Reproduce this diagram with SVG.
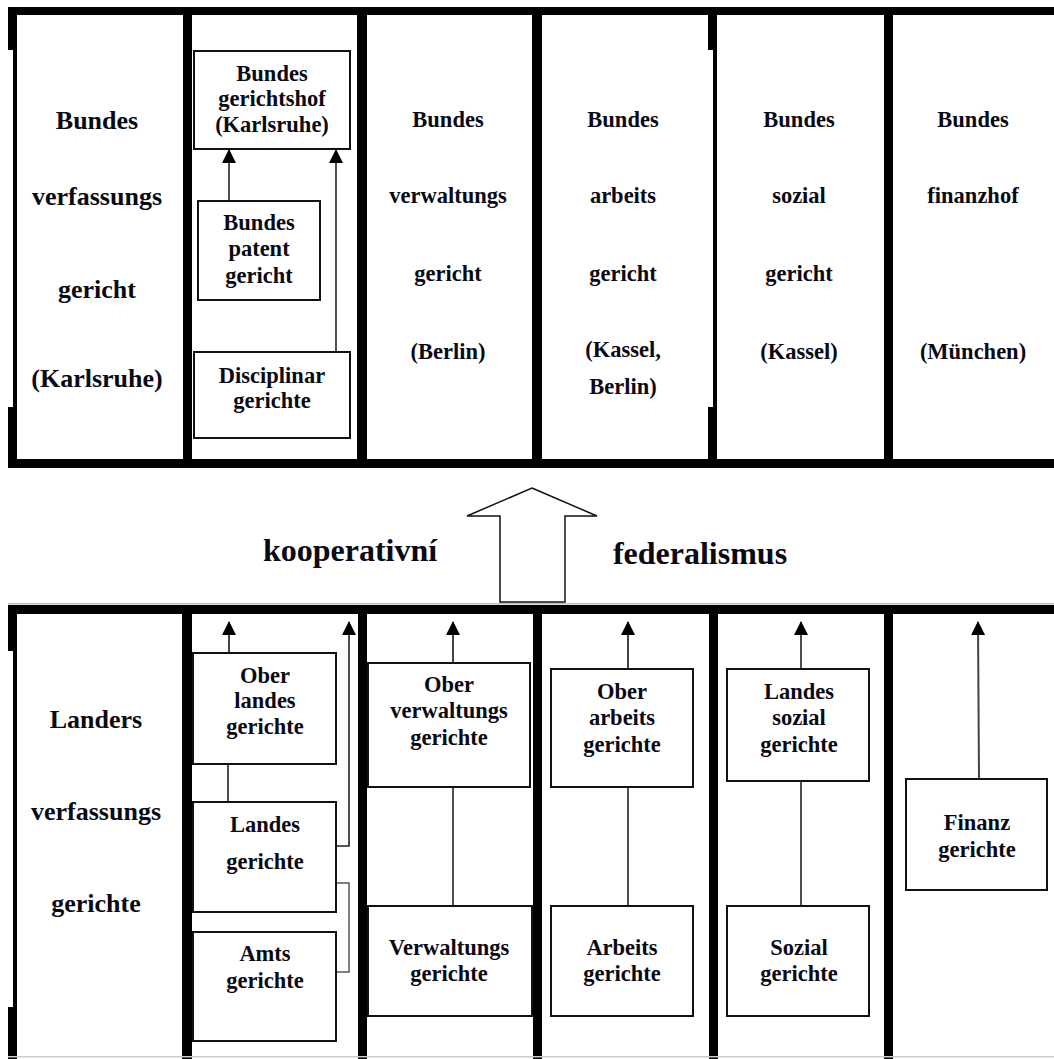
<svg xmlns="http://www.w3.org/2000/svg" width="1054" height="1059" viewBox="0 0 1054 1059">
<style>
text{font-family:"Liberation Serif","Times New Roman",serif;font-weight:bold;fill:#0a0a14;text-anchor:middle}
.c1{font-size:26px}
.t{font-size:22.5px}
.big{font-size:32px}
.box{fill:#fff;stroke:#111;stroke-width:2}
.frame{fill:#000}
.ln{fill:none;stroke:#222;stroke-width:1.6}
.ar{fill:none;stroke:#444;stroke-width:2}
.br{fill:none;stroke:#555;stroke-width:1.5}
</style>
<defs>
<marker id="ah" viewBox="0 0 14 14" refX="13" refY="7" markerWidth="14" markerHeight="14" markerUnits="userSpaceOnUse" orient="auto">
<path d="M0,0 L14,7 L0,14 z" fill="#000"/>
</marker>
</defs>
<rect width="1054" height="1059" fill="#fff"/>

<g id="top-frame">
<rect class="frame" x="8" y="7" width="1046" height="8"/>
<rect class="frame" x="8" y="459" width="1046" height="9"/>
<rect class="frame" x="8" y="7" width="9" height="43"/>
<rect class="frame" x="13" y="50" width="4" height="357"/>
<rect class="frame" x="8" y="407" width="9" height="61"/>
<rect class="frame" x="183" y="7" width="9" height="461"/>
<rect class="frame" x="357" y="7" width="10" height="461"/>
<rect class="frame" x="532" y="7" width="10" height="461"/>
<rect class="frame" x="708" y="7" width="9" height="43"/>
<rect class="frame" x="713" y="50" width="4" height="357"/>
<rect class="frame" x="708" y="407" width="9" height="61"/>
<rect class="frame" x="884" y="7" width="9" height="461"/>
</g>

<g id="bottom-frame">
<rect x="8" y="603" width="1046" height="1.5" fill="#bbb"/>
<rect class="frame" x="8" y="605" width="1046" height="9"/>
<rect class="frame" x="8" y="605" width="9" height="46"/>
<rect class="frame" x="13" y="651" width="4" height="356"/>
<rect class="frame" x="8" y="1007" width="9" height="52"/>
<rect class="frame" x="182" y="605" width="10" height="454"/>
<rect class="frame" x="358" y="605" width="9" height="454"/>
<rect class="frame" x="533" y="605" width="9" height="454"/>
<rect class="frame" x="709" y="605" width="9" height="454"/>
<rect class="frame" x="884" y="605" width="9" height="454"/>
<rect x="8" y="1056" width="1046" height="1.5" fill="#ccc"/>
</g>

<g id="connectors">
<path class="ln" d="M229,201 V150" marker-end="url(#ah)"/>
<path class="ln" d="M336,352 V150" marker-end="url(#ah)"/>
<path class="ar" d="M229,653 V622" marker-end="url(#ah)"/>
<path class="ln" d="M336,846 H349 V622" marker-end="url(#ah)"/>
<path class="br" d="M336,883 H349 V972 H336"/>
<path class="ar" d="M453,663 V622" marker-end="url(#ah)"/>
<path class="ar" d="M628,669 V622" marker-end="url(#ah)"/>
<path class="ln" d="M801,669 V622" marker-end="url(#ah)"/>
<path class="ar" d="M979,779 L978,622" marker-end="url(#ah)"/>
<path class="ln" d="M228,764 V802"/>
<path class="ln" d="M453,787 V906"/>
<path class="ln" d="M628,787 V906"/>
<path class="ln" d="M801,781 V906"/>
</g>

<g id="bverfg">
<text class="c1" x="97" y="129">Bundes</text>
<text class="c1" x="97" y="205">verfassungs</text>
<text class="c1" x="97" y="298">gericht</text>
<text class="c1" x="97" y="387">(Karlsruhe)</text>
</g>

<g id="bgh">
<rect class="box" x="194" y="51" width="156" height="98"/>
<text class="t" x="272" y="81">Bundes</text>
<text class="t" x="272" y="106">gerichtshof</text>
<text class="t" x="272" y="132">(Karlsruhe)</text>
</g>

<g id="bpatg">
<rect class="box" x="198" y="201" width="122" height="99"/>
<text class="t" x="259" y="230">Bundes</text>
<text class="t" x="259" y="256">patent</text>
<text class="t" x="259" y="283">gericht</text>
</g>

<g id="disciplinar">
<rect class="box" x="194" y="352" width="156" height="86"/>
<text class="t" x="272" y="383">Disciplinar</text>
<text class="t" x="272" y="408">gerichte</text>
</g>

<g id="bverwg">
<text class="t" x="448" y="127">Bundes</text>
<text class="t" x="448" y="203">verwaltungs</text>
<text class="t" x="448" y="281">gericht</text>
<text class="t" x="448" y="359">(Berlin)</text>
</g>

<g id="bag">
<text class="t" x="623" y="127">Bundes</text>
<text class="t" x="623" y="203">arbeits</text>
<text class="t" x="623" y="281">gericht</text>
<text class="t" x="623" y="357">(Kassel,</text>
<text class="t" x="623" y="394">Berlin)</text>
</g>

<g id="bsg">
<text class="t" x="799" y="127">Bundes</text>
<text class="t" x="799" y="203">sozial</text>
<text class="t" x="799" y="281">gericht</text>
<text class="t" x="799" y="359">(Kassel)</text>
</g>

<g id="bfh">
<text class="t" x="973" y="127">Bundes</text>
<text class="t" x="973" y="203">finanzhof</text>
<text class="t" x="973" y="359">(München)</text>
</g>

<g id="federalism">
<polygon points="532,488 597,516 565,516 565,602 500,602 500,516 467,516" fill="#fff" stroke="#111" stroke-width="1.5"/>
<text class="big" x="350" y="561">kooperativní</text>
<text class="big" x="700" y="564">federalismus</text>
</g>

<g id="lverfg">
<text class="c1" x="96" y="728">Landers</text>
<text class="c1" x="96" y="820">verfassungs</text>
<text class="c1" x="96" y="912">gerichte</text>
</g>

<g id="olg">
<rect class="box" x="193" y="653" width="143" height="111"/>
<text class="t" x="265" y="683">Ober</text>
<text class="t" x="265" y="708">landes</text>
<text class="t" x="265" y="734">gerichte</text>
</g>

<g id="lg">
<rect class="box" x="193" y="802" width="143" height="110"/>
<text class="t" x="265" y="832">Landes</text>
<text class="t" x="265" y="869">gerichte</text>
</g>

<g id="ag">
<rect class="box" x="193" y="932" width="143" height="109"/>
<text class="t" x="265" y="961">Amts</text>
<text class="t" x="265" y="988">gerichte</text>
</g>

<g id="ovg">
<rect class="box" x="368" y="663" width="162" height="124"/>
<text class="t" x="449" y="692">Ober</text>
<text class="t" x="449" y="718">verwaltungs</text>
<text class="t" x="449" y="745">gerichte</text>
</g>

<g id="vg">
<rect class="box" x="368" y="906" width="164" height="110"/>
<text class="t" x="449" y="955">Verwaltungs</text>
<text class="t" x="449" y="981">gerichte</text>
</g>

<g id="lag">
<rect class="box" x="551" y="669" width="142" height="118"/>
<text class="t" x="622" y="699">Ober</text>
<text class="t" x="622" y="725">arbeits</text>
<text class="t" x="622" y="752">gerichte</text>
</g>

<g id="arbg">
<rect class="box" x="551" y="906" width="142" height="110"/>
<text class="t" x="622" y="955">Arbeits</text>
<text class="t" x="622" y="981">gerichte</text>
</g>

<g id="lsg">
<rect class="box" x="727" y="669" width="142" height="112"/>
<text class="t" x="799" y="699">Landes</text>
<text class="t" x="799" y="725">sozial</text>
<text class="t" x="799" y="752">gerichte</text>
</g>

<g id="sg">
<rect class="box" x="727" y="906" width="142" height="110"/>
<text class="t" x="799" y="955">Sozial</text>
<text class="t" x="799" y="981">gerichte</text>
</g>

<g id="fg">
<rect class="box" x="906" y="779" width="141" height="111"/>
<text class="t" x="977" y="830">Finanz</text>
<text class="t" x="977" y="857">gerichte</text>
</g>
</svg>
